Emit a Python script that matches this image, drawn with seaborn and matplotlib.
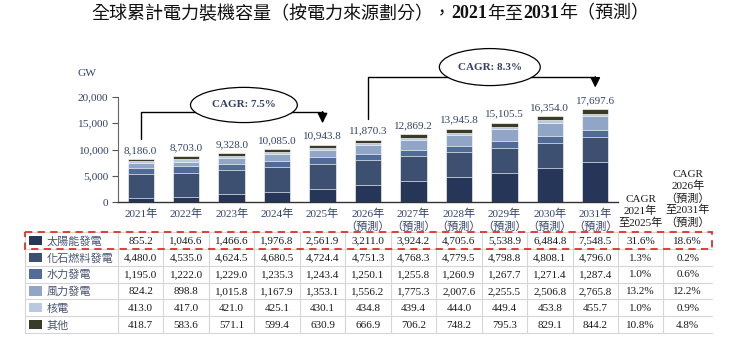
import matplotlib
matplotlib.use("Agg")
import matplotlib.pyplot as plt
import seaborn as sns
import pandas as pd
import numpy as np
from matplotlib.patches import Ellipse, Rectangle

sns.set_theme(style="white")
FAM = ["Liberation Serif", "Noto Sans CJK TC", "DejaVu Sans"]
plt.rcParams["font.family"] = FAM

years = ["2021", "2022", "2023", "2024", "2025", "2026", "2027", "2028", "2029", "2030", "2031"]
year_labels = ["2021年", "2022年", "2023年", "2024年", "2025年",
               "2026年\n（預測）", "2027年\n（預測）", "2028年\n（預測）",
               "2029年\n（預測）", "2030年\n（預測）", "2031年\n（預測）"]
series_names = ["太陽能發電", "化石燃料發電", "水力發電", "風力發電", "核電", "其他"]
solar   = [855.2, 1046.6, 1466.6, 1976.8, 2561.9, 3211.0, 3924.2, 4705.6, 5538.9, 6484.8, 7548.5]
fossil  = [4480.0, 4535.0, 4624.5, 4680.5, 4724.4, 4751.3, 4768.3, 4779.5, 4798.8, 4808.1, 4796.0]
hydro   = [1195.0, 1222.0, 1229.0, 1235.3, 1243.4, 1250.1, 1255.8, 1260.9, 1267.7, 1271.4, 1287.4]
wind    = [824.2, 898.8, 1015.8, 1167.9, 1353.1, 1556.2, 1775.3, 2007.6, 2255.5, 2506.8, 2765.8]
nuclear = [413.0, 417.0, 421.0, 425.1, 430.1, 434.8, 439.4, 444.0, 449.4, 453.8, 455.7]
other   = [418.7, 583.6, 571.1, 599.4, 630.9, 666.9, 706.2, 748.2, 795.3, 829.1, 844.2]
totals  = [8186.0, 8703.0, 9328.0, 10085.0, 10943.8, 11870.3, 12869.2, 13945.8, 15105.5, 16354.0, 17697.6]
cagr_2125 = ["31.6%", "1.3%", "1.0%", "13.2%", "1.0%", "10.8%"]
cagr_2631 = ["18.6%", "0.2%", "0.6%", "12.2%", "0.9%", "4.8%"]
cagr_labels = ["CAGR: 7.5%", "CAGR: 8.3%"]
yticks = [0, 5000, 10000, 15000, 20000]
title_parts = [("全球累計電力裝機容量（按電力來源劃分），", "normal"), ("2021", "bold"),
               ("年至", "normal"), ("2031", "bold"), ("年（預測）", "normal")]

colors = ["#263659", "#3e5072", "#506c96", "#91a6c6", "#bac9dd", "#3b3c28"]
NAVY = "#34426a"

series = [solar, fossil, hydro, wind, nuclear, other]
df = pd.DataFrame({"year": years})
cum = np.zeros(len(years))
for name, vals in zip(series_names, series):
    cum = cum + np.array(vals)
    df[name] = cum.copy()

W, H = 733, 340
fig = plt.figure(figsize=(W / 100, H / 100), dpi=100)
ax = fig.add_axes([118 / W, 1 - 202 / H, 500 / W, 105 / H])

# draw cumulative layers from top down
for k in range(len(series_names) - 1, -1, -1):
    sns.barplot(data=df, x="year", y=series_names[k], order=years, color=colors[k],
                saturation=1, width=0.58, edgecolor="white", linewidth=0.45, ax=ax)

ax.set_xlim(-0.5, 10.5)
ax.set_ylim(0, 20000)
ax.set_yticks(yticks)
ax.set_yticklabels([f"{v:,}" for v in yticks], color=NAVY, fontsize=8.2)
ax.set_xticks(range(len(years)))
ax.set_xticklabels(year_labels, color=NAVY, fontsize=8, linespacing=1.25)
ax.tick_params(axis="x", length=0, pad=5)
ax.tick_params(axis="y", length=4, width=0.8, color="#555555", left=True, pad=3)
ax.set_xlabel("")
ax.set_ylabel("")
for s in ["top", "right"]:
    ax.spines[s].set_visible(False)
ax.spines["left"].set_color("#666666")
ax.spines["left"].set_linewidth(0.8)
ax.spines["bottom"].set_color("#333333")
ax.spines["bottom"].set_linewidth(1.0)

# totals above bars
ax.bar_label(ax.containers[0], labels=[f"{t:,.1f}" for t in totals], padding=3,
             color=NAVY, fontsize=8)

fig.text(87 / W, 1 - 74 / H, "GW", color=NAVY, fontsize=8.2, ha="center", va="center")

# CAGR brackets
def bracket(x0, x1, y0, ytop, yend, ex, ey, ew, eh, label):
    ax.plot([x0, x0, x1], [y0, ytop, ytop], color="black", lw=1.0, clip_on=False, zorder=5)
    ax.annotate("", xy=(x1, yend), xytext=(x1, ytop + 60),
                arrowprops=dict(arrowstyle="-|>,head_length=0.5,head_width=0.25",
                                color="black", lw=1.0, shrinkA=0, shrinkB=0),
                annotation_clip=False, zorder=5)
    e = Ellipse((ex, ey), ew, eh, facecolor="white", edgecolor="black", lw=0.9,
                clip_on=False, zorder=6)
    ax.add_patch(e)
    ax.text(ex, ey, label, ha="center", va="center", fontsize=8, fontweight="bold",
            color=NAVY, zorder=7, clip_on=False)

bracket(0, 4, 12000, 17150, 15000, 2.27, 18480, 2.35, 6700, cagr_labels[0])
bracket(5, 10, 15800, 23800, 21800, 7.68, 25700, 2.22, 7050, cagr_labels[1])

# title built from pieces (regular CJK, bold serif digits)
renderer = fig.canvas.get_renderer()
pieces = []
for txt, wt in title_parts:
    t = fig.text(0, 1 - 14 / H, txt, ha="left", va="center", fontsize=13,
                 fontweight=wt, color="#111111")
    pieces.append(t)
widths = [p.get_window_extent(renderer=renderer).width for p in pieces]
x = (W * 0.505 - sum(widths) / 2)
for p, wd in zip(pieces, widths):
    p.set_x(x / W)
    x += wd

# table
xl = (25 - 118) / 45.45 - 0.5
xr = (712 - 118) / 45.45 - 0.5
tax = fig.add_axes([25 / W, 1 - 333 / H, 687 / W, 101 / H])
tax.set_xlim(xl, xr)
tax.set_ylim(6, 0)
tax.axis("off")
edges = [xl] + [i - 0.5 for i in range(12)] + [11.5, xr]
grid_c = "#d6d6d6"
for xe in edges[:-1]:
    tax.plot([xe, xe], [0, 6], color=grid_c, lw=0.8, clip_on=False)
for r in range(7):
    tax.plot([xl, xr], [r, r], color=grid_c, lw=0.8, clip_on=False)

for r, name in enumerate(series_names):
    tax.add_patch(Rectangle((xl + 0.09, r + 0.22), 0.28, 0.56, facecolor=colors[r],
                            edgecolor="none"))
    tax.text(xl + 0.47, r + 0.55, name, ha="left", va="center", fontsize=8,
             color="#4a5575")
    vals = series[r]
    for i, v in enumerate(vals):
        tax.text(i, r + 0.55, f"{v:,.1f}", ha="center", va="center", fontsize=8,
                 color="#1a1a1a")
    tax.text(11.0, r + 0.55, cagr_2125[r], ha="center", va="center", fontsize=8, color="#1a1a1a")
    tax.text((11.5 + xr) / 2, r + 0.55, cagr_2631[r], ha="center", va="center", fontsize=8,
             color="#1a1a1a")

tax.text(11.0, -0.25, "CAGR\n2021年\n至2025年", ha="center", va="bottom", fontsize=8,
         linespacing=1.2, color="#1a1a1a", clip_on=False)
tax.text((11.5 + xr) / 2, -0.25, "CAGR\n2026年\n（預測）\n至2031年\n（預測）", ha="center",
         va="bottom", fontsize=8, linespacing=1.2, color="#1a1a1a", clip_on=False)

# dashed highlight
tax.add_patch(Rectangle((xl, 0.0), xr - xl, 1.0, facecolor="none", edgecolor="#e0302a",
                        lw=1.3, linestyle=(0, (4, 3)), clip_on=False, zorder=10))

fig.savefig("out.png", dpi=100)
